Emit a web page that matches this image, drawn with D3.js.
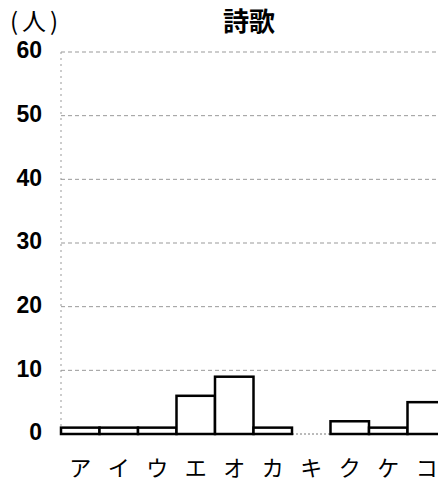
<!DOCTYPE html>
<html>
<head>
<meta charset="utf-8">
<script src="https://cdn.jsdelivr.net/npm/d3@7"></script>
<style>
  body { margin: 0; background: #fff; }
  svg { display: block; }
</style>
</head>
<body>
<div id="chart"></div>
<script>
const categories = ["ア", "イ", "ウ", "エ", "オ", "カ", "キ", "ク", "ケ", "コ"];
const values = [1, 1, 1, 6, 9, 1, 0, 2, 1, 5];
const yTicks = [0, 10, 20, 30, 40, 50, 60];
const title = "詩歌";
const unitLabel = "(人)";

const width = 438, height = 487;
const margin = { top: 52, right: -8, bottom: 53, left: 61 };
const innerWidth = width - margin.left - margin.right;
const innerHeight = height - margin.top - margin.bottom;

const svg = d3.select("#chart")
  .append("svg")
    .attr("width", width)
    .attr("height", height);

const innerChart = svg
  .append("g")
    .attr("transform", `translate(${margin.left}, ${margin.top})`);

// scales
const xScale = d3.scaleBand()
  .domain(categories)
  .range([0, innerWidth])
  .padding(0);

const yScale = d3.scaleLinear()
  .domain([0, 60])
  .range([innerHeight, 0]);

// gridlines
innerChart.selectAll(".grid")
  .data(yTicks.filter(t => t > 0))
  .join("line")
    .attr("class", "grid")
    .attr("x1", 0)
    .attr("x2", innerWidth)
    .attr("y1", d => yScale(d))
    .attr("y2", d => yScale(d))
    .attr("stroke", "#999")
    .attr("stroke-width", 1)
    .attr("stroke-dasharray", "4,3");

// y axis line
innerChart.append("line")
  .attr("x1", 0).attr("x2", 0)
  .attr("y1", 0).attr("y2", innerHeight)
  .attr("stroke", "#999")
  .attr("stroke-dasharray", "2,4");

// y tick labels
innerChart.selectAll(".ylab")
  .data(yTicks)
  .join("text")
    .attr("class", "ylab")
    .attr("x", -19)
    .attr("y", d => yScale(d) - 2)
    .attr("dy", "0.36em")
    .attr("text-anchor", "end")
    .attr("font-family", "Liberation Sans, Arial, sans-serif")
    .attr("font-weight", "bold")
    .attr("font-size", 23)
    .text(d => d);

// baseline for zero bar
innerChart.append("line")
  .attr("x1", xScale("キ")).attr("x2", xScale("キ") + xScale.bandwidth())
  .attr("y1", yScale(0)).attr("y2", yScale(0))
  .attr("stroke", "#777")
  .attr("stroke-dasharray", "2,2");

// bars
innerChart.selectAll(".bar")
  .data(categories.map((c, i) => ({ cat: c, value: values[i] })).filter(d => d.value > 0))
  .join("rect")
    .attr("class", "bar")
    .attr("x", d => xScale(d.cat))
    .attr("y", d => yScale(d.value))
    .attr("width", xScale.bandwidth())
    .attr("height", d => yScale(0) - yScale(d.value))
    .attr("fill", "#fff")
    .attr("stroke", "#000")
    .attr("stroke-width", 2.5);

// x labels
innerChart.selectAll(".xlab")
  .data(categories)
  .join("text")
    .attr("class", "xlab")
    .attr("x", d => xScale(d) + xScale.bandwidth() / 2)
    .attr("y", innerHeight + 42)
    .attr("text-anchor", "middle")
    .attr("font-family", "Noto Sans CJK JP, sans-serif")
    .attr("font-size", 22)
    .text(d => d);

// title and unit
svg.append("text")
  .attr("x", 249)
  .attr("y", 31)
  .attr("text-anchor", "middle")
  .attr("font-family", "Noto Sans CJK JP, sans-serif")
  .attr("font-weight", "bold")
  .attr("font-size", 26)
  .text(title);

svg.append("text")
  .attr("x", 10)
  .attr("y", 30)
  .attr("font-family", "Noto Sans CJK JP, sans-serif")
  .attr("font-size", 24)
  .attr("letter-spacing", 4)
  .text(unitLabel);
</script>
</body>
</html>
